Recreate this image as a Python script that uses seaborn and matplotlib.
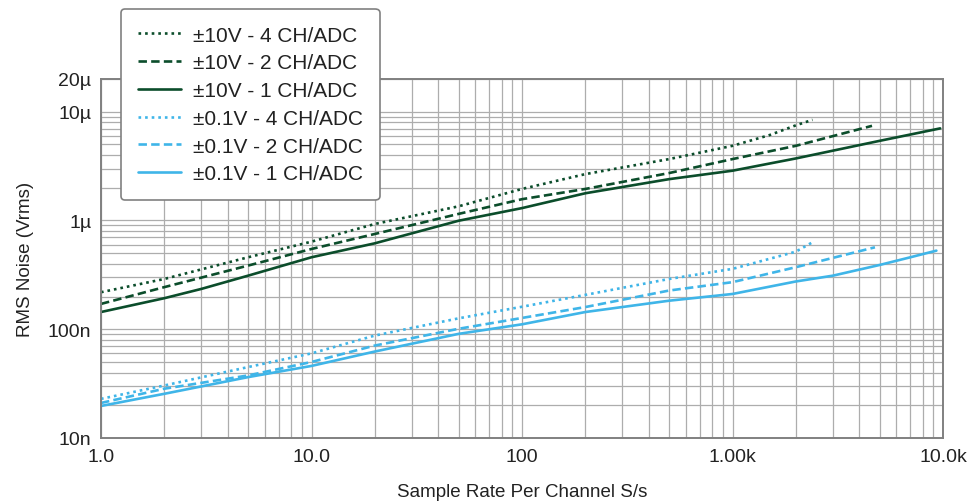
import matplotlib
matplotlib.use('Agg')
import matplotlib.pyplot as plt
import seaborn as sns
import numpy as np

# sample rates (S/s) and rms noise (V)
x_hv4 = [1, 2, 5, 10, 20, 50, 100, 200, 500, 1000, 1500, 2000, 2400]
y_hv4 = [219e-9, 290e-9, 459e-9, 639e-9, 929e-9, 1.35e-6, 1.95e-6, 2.67e-6, 3.67e-6, 4.86e-6, 6.1e-6, 7.5e-6, 8.43e-6]

x_hv2 = [1, 2, 5, 10, 20, 50, 100, 200, 500, 1000, 2000, 4600]
y_hv2 = [171e-9, 244e-9, 385e-9, 547e-9, 752e-9, 1.15e-6, 1.57e-6, 1.95e-6, 2.73e-6, 3.67e-6, 4.86e-6, 7.42e-6]

x_hv1 = [1, 2, 3, 5, 10, 20, 50, 100, 200, 500, 1000, 2000, 5000, 9700]
y_hv1 = [144e-9, 193e-9, 235e-9, 311e-9, 459e-9, 617e-9, 995e-9, 1.3e-6, 1.78e-6, 2.4e-6, 2.87e-6, 3.72e-6, 5.4e-6, 7.03e-6]

x_lv4 = [1, 2, 5, 10, 20, 50, 100, 200, 500, 1000, 2000, 2400]
y_lv4 = [22.9e-9, 30.4e-9, 44.9e-9, 60e-9, 87.5e-9, 126e-9, 161e-9, 207e-9, 290e-9, 359e-9, 517e-9, 631e-9]

x_lv2 = [1, 2, 5, 10, 20, 50, 100, 200, 500, 1000, 2000, 4750]
y_lv2 = [21e-9, 28.4e-9, 37.6e-9, 50e-9, 70.8e-9, 101e-9, 127e-9, 160e-9, 227e-9, 271e-9, 372e-9, 567e-9]

x_lv1 = [1, 2, 5, 10, 20, 50, 100, 200, 500, 1000, 2000, 3000, 5000, 7000, 9300]
y_lv1 = [19.7e-9, 25.5e-9, 36.3e-9, 46e-9, 62.4e-9, 90.7e-9, 111e-9, 144e-9, 183e-9, 211e-9, 275e-9, 311e-9, 390e-9, 459e-9, 528e-9]

labels = ['±10V - 4 CH/ADC', '±10V - 2 CH/ADC', '±10V - 1 CH/ADC',
          '±0.1V - 4 CH/ADC', '±0.1V - 2 CH/ADC', '±0.1V - 1 CH/ADC']

xticks = [1, 10, 100, 1000, 10000]
xtick_labels = ['1.0', '10.0', '100', '1.00k', '10.0k']
yticks = [1e-8, 1e-7, 1e-6, 1e-5, 2e-5]
ytick_labels = ['10n', '100n', '1µ', '10µ', '20µ']

sns.set_style('white')
plt.rcParams['font.family'] = ['Liberation Sans', 'DejaVu Sans']

dark = '#0b4d2b'
light = '#3fb5e8'
dot = (0, (1, 1.5))
dash = (0, (3.2, 1.6))

fig = plt.figure(figsize=(9.72, 5.02), dpi=100)
ax = fig.add_axes([101/972, 1 - 439/502, 842/972, 359/502])

series = [(x_hv4, y_hv4, dark, dot), (x_hv2, y_hv2, dark, dash), (x_hv1, y_hv1, dark, '-'),
          (x_lv4, y_lv4, light, dot), (x_lv2, y_lv2, light, dash), (x_lv1, y_lv1, light, '-')]
for (xs, ys, c, ls), lab in zip(series, labels):
    sns.lineplot(x=xs, y=ys, ax=ax, color=c, linestyle=ls, linewidth=1.9, label=lab)

ax.set_xscale('log')
ax.set_yscale('log')
ax.set_xlim(1, 10000)
ax.set_ylim(1e-8, 2e-5)

ax.grid(True, which='both', color='#adadad', linewidth=0.9)
ax.set_axisbelow(True)
ax.set_xticks(xticks)
ax.set_xticklabels(xtick_labels)
ax.set_yticks(yticks)
ax.set_yticklabels(ytick_labels)
ax.minorticks_on()
ax.tick_params(which='minor', length=0)
ax.tick_params(which='major', length=4, width=1.2, color='#808080', labelsize=14, labelcolor='#222222', pad=3)
for s in ax.spines.values():
    s.set_color('#808080')
    s.set_linewidth(1.4)

ax.set_xlabel('Sample Rate Per Channel S/s', fontsize=13.5, color='#222222', labelpad=13)
ax.set_ylabel('RMS Noise (Vrms)', fontsize=13.5, color='#222222', labelpad=10)

ax.get_legend().remove()
h, l = ax.get_legend_handles_labels()
leg = fig.legend(h, l, loc='upper left', bbox_to_anchor=(121/972, 1 - 10/502), fontsize=15,
                 frameon=True, fancybox=True, edgecolor='#808080', framealpha=1, borderaxespad=0,
                 handlelength=2.1, labelspacing=0.42, borderpad=0.8, handletextpad=0.55)
leg.get_frame().set_linewidth(1.2)
for t in leg.get_texts():
    t.set_color('#222222')

fig.savefig('out.png', dpi=100)
